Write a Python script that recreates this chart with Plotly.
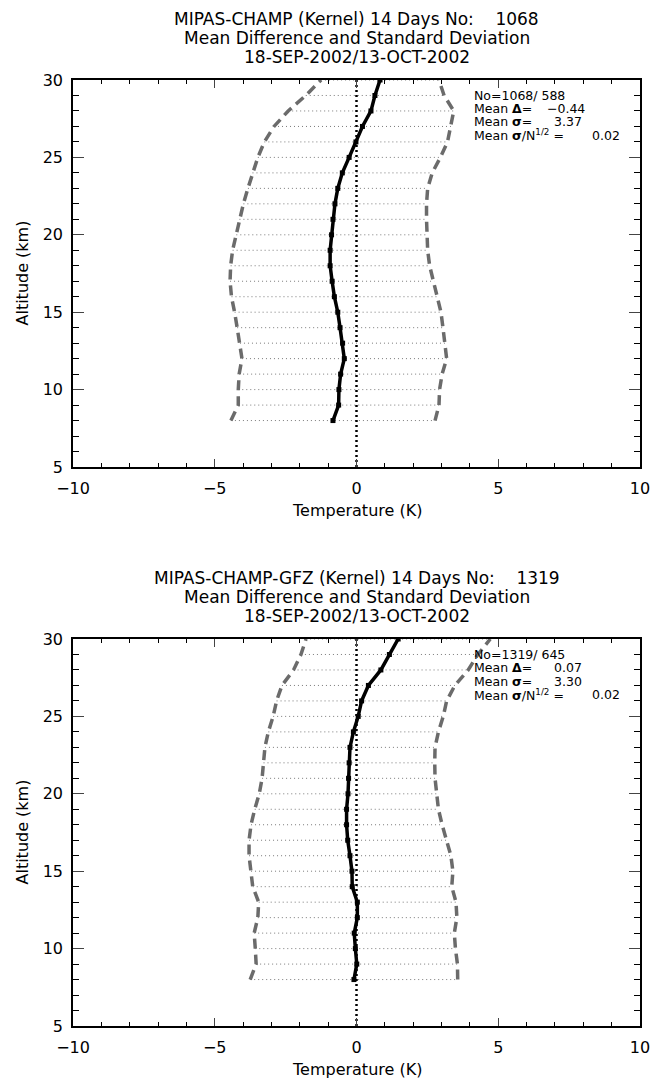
import plotly.graph_objects as go

# ---------------- data ----------------
altitude = [8, 9, 10, 11, 12, 13, 14, 15, 16, 17, 18, 19, 20, 21, 22, 23, 24, 25, 26, 27, 28, 29, 30]

mean_champ = [-0.83, -0.63, -0.62, -0.56, -0.43, -0.49, -0.58, -0.66, -0.78, -0.86, -0.93, -0.93,
              -0.88, -0.83, -0.76, -0.66, -0.50, -0.26, -0.02, 0.21, 0.51, 0.65, 0.83]
std_champ = [3.60, 3.54, 3.55, 3.58, 3.61, 3.62, 3.63, 3.64, 3.63, 3.60, 3.51, 3.44,
             3.36, 3.30, 3.23, 3.17, 3.17, 3.22, 3.23, 3.12, 2.92, 2.44, 2.08]

mean_gfz = [-0.09, 0.01, -0.04, -0.08, 0.03, 0.03, -0.15, -0.16, -0.23, -0.31, -0.35, -0.35,
            -0.30, -0.28, -0.26, -0.23, -0.11, 0.06, 0.18, 0.42, 0.86, 1.16, 1.47]
std_gfz = [3.66, 3.55, 3.53, 3.53, 3.51, 3.48, 3.51, 3.56, 3.56, 3.48, 3.37, 3.24,
           3.13, 3.05, 3.02, 3.00, 3.00, 3.00, 3.00, 3.05, 3.08, 3.12, 3.25]

titles_champ = ["MIPAS-CHAMP (Kernel) 14 Days No:    1068",
                "Mean Difference and Standard Deviation",
                "18-SEP-2002/13-OCT-2002"]
titles_gfz = ["MIPAS-CHAMP-GFZ (Kernel) 14 Days No:    1319",
              "Mean Difference and Standard Deviation",
              "18-SEP-2002/13-OCT-2002"]

stats_champ = {"no": "No=1068/ 588", "delta": "\u22120.44", "sigma": "3.37", "sem": "0.02"}
stats_gfz = {"no": "No=1319/ 645", "delta": "0.07", "sigma": "3.30", "sem": "0.02"}

x_ticks = [-10, -5, 0, 5, 10]
y_ticks = [5, 10, 15, 20, 25, 30]

# ---------------- layout helpers ----------------
W, H = 666, 1079
FONT = "DejaVu Sans"

def px(x):
    return x / W

def py(y):
    return 1 - y / H

panels = [
    dict(mean=mean_champ, std=std_champ, titles=titles_champ, stats=stats_champ, top=80, bottom=467),
    dict(mean=mean_gfz, std=std_gfz, titles=titles_gfz, stats=stats_gfz, top=639, bottom=1026),
]
LEFT, RIGHT = 73, 640

fig = go.Figure()
annotations = []

for i, p in enumerate(panels):
    sfx = "" if i == 0 else str(i + 1)
    xa, ya = "x" + sfx, "y" + sfx
    lo = [m - s for m, s in zip(p["mean"], p["std"])]
    hi = [m + s for m, s in zip(p["mean"], p["std"])]

    # horizontal dotted lines spanning +-sigma
    hx, hy = [], []
    for a, l, h in zip(altitude, lo, hi):
        hx += [l, h, None]
        hy += [a, a, None]
    fig.add_trace(go.Scatter(x=hx, y=hy, mode="lines", xaxis=xa, yaxis=ya,
                             line=dict(color="#7a7a7a", width=1, dash="1px,3px"),
                             hoverinfo="skip", showlegend=False))
    # zero line
    fig.add_trace(go.Scatter(x=[0, 0], y=[5, 30], mode="lines", xaxis=xa, yaxis=ya,
                             line=dict(color="black", width=2.5, dash="2px,3px"),
                             hoverinfo="skip", showlegend=False))
    # sigma bounds
    for b in (lo, hi):
        fig.add_trace(go.Scatter(x=b, y=altitude, mode="lines", xaxis=xa, yaxis=ya,
                                 line=dict(color="#6b6b6b", width=3.5, dash="10px,6px"),
                                 hoverinfo="skip", showlegend=False))
    # mean
    fig.add_trace(go.Scatter(x=p["mean"], y=altitude, mode="lines+markers", xaxis=xa, yaxis=ya,
                             line=dict(color="black", width=3.5),
                             marker=dict(symbol="square", size=5, color="black"),
                             showlegend=False))

    dom_y = [py(p["bottom"]), py(p["top"])]
    axis_common = dict(showline=True, linecolor="black", linewidth=1.5, mirror="allticks",
                       ticks="inside", showgrid=False, zeroline=False, automargin=False,
                       tickfont=dict(family=FONT, size=16, color="black"))
    fig.update_layout(**{
        "xaxis" + sfx: dict(axis_common, domain=[px(LEFT), px(RIGHT)], range=[-10, 10],
                            anchor=ya, tickvals=x_ticks, ticklen=8, tickwidth=1,
                            ticklabelstandoff=6,
                            minor=dict(dtick=1, ticks="inside", ticklen=4, tickcolor="black", tickwidth=1)),
        "yaxis" + sfx: dict(axis_common, domain=dom_y, range=[5, 30], anchor=xa,
                            tickvals=y_ticks, ticklen=11, tickwidth=1,
                            ticklabelstandoff=5,
                            minor=dict(dtick=1, ticks="inside", ticklen=6, tickcolor="black", tickwidth=1)),
    })

    top = p["top"]
    cx = (LEFT + RIGHT) / 2
    for k, t in enumerate(p["titles"]):
        annotations.append(dict(text=t, x=px(cx), y=py(top - 61 + 19 * k), xref="paper", yref="paper",
                                showarrow=False, xanchor="center", yanchor="middle",
                                font=dict(family=FONT, size=17, color="black")))
    # axis titles
    annotations.append(dict(text="Temperature (K)", x=px(cx), y=py(p["bottom"] + 43), xref="paper",
                            yref="paper", showarrow=False, xanchor="center", yanchor="middle",
                            font=dict(family=FONT, size=16, color="black")))
    annotations.append(dict(text="Altitude (km)", x=px(22), y=py((top + p["bottom"]) / 2), xref="paper",
                            yref="paper", showarrow=False, xanchor="center", yanchor="middle",
                            textangle=-90, font=dict(family=FONT, size=16, color="black")))
    # statistics box
    s = p["stats"]
    sf = dict(family=FONT, size=12.5, color="black")
    rows = [(s["no"], None, None),
            ("Mean <b>\u0394</b>=", s["delta"], 545 if s["delta"].startswith("\u2212") else 552),
            ("Mean <b>\u03c3</b>=", s["sigma"], 552),
            ("Mean <b>\u03c3</b>/N<sup>1/2</sup> =", s["sem"], 590)]
    for k, (lab, val, vx) in enumerate(rows):
        yy = top + 15 + 13.5 * k
        annotations.append(dict(text=lab, x=px(472), y=py(yy), xref="paper", yref="paper",
                                showarrow=False, xanchor="left", yanchor="middle", font=sf))
        if val is not None:
            annotations.append(dict(text=val, x=px(vx), y=py(yy), xref="paper", yref="paper",
                                    showarrow=False, xanchor="left", yanchor="middle", font=sf))

fig.update_layout(width=W, height=H, margin=dict(l=0, r=0, t=0, b=0),
                  paper_bgcolor="white", plot_bgcolor="white",
                  annotations=annotations, showlegend=False,
                  font=dict(family=FONT, color="black"))

fig.write_html("out.html", config={"displayModeBar": False})
